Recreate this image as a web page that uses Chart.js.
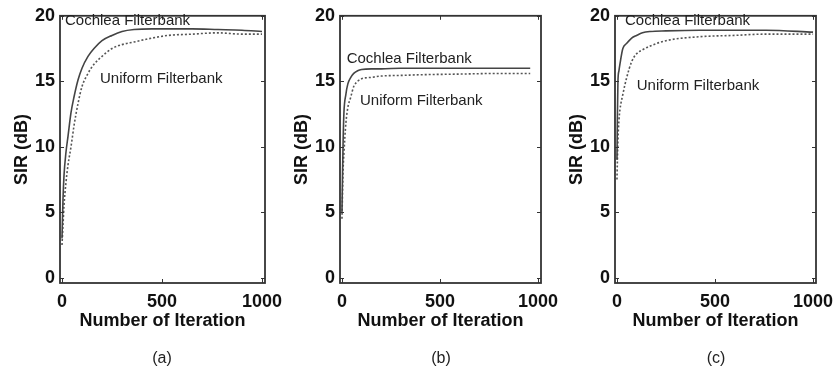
<!DOCTYPE html>
<html>
<head>
<meta charset="utf-8">
<script src="https://cdn.jsdelivr.net/npm/chart.js@4.4.1/dist/chart.umd.min.js"></script>
<style>
  html, body { margin: 0; padding: 0; background: #fff; overflow: hidden; width: 835px; height: 376px; }
  canvas { position: absolute; top: 0; }
  .cap { position: absolute; top: 349px; width: 60px; text-align: center; font: 16px "Liberation Sans", Arial, sans-serif; line-height: 18px; color: #222; }
</style>
</head>
<body>
<canvas id="chartA" width="300" height="376" style="left:0px"></canvas>
<canvas id="chartB" width="296" height="376" style="left:280px"></canvas>
<canvas id="chartC" width="296" height="376" style="left:555px"></canvas>
<div class="cap" style="left:132px">(a)</div>
<div class="cap" style="left:411px">(b)</div>
<div class="cap" style="left:686px">(c)</div>
<script>
// tick labels
const xTicks = [0, 500, 1000];
const yTicks = [0, 5, 10, 15, 20];

// panel (a)
const iterA = [0, 5, 10, 20, 30, 45, 60, 80, 100, 130, 160, 200, 250, 300, 360, 450, 530, 650, 780, 900, 1000];
const cochleaA = [3.0, 6.0, 7.8, 9.6, 10.8, 12.6, 13.8, 15.1, 16.0, 16.9, 17.5, 18.1, 18.5, 18.8, 18.95, 19.0, 19.0, 19.0, 18.95, 18.9, 18.8];
const uniformA = [2.5, 4.0, 5.5, 7.3, 8.6, 10.0, 11.6, 13.3, 14.6, 15.6, 16.3, 16.9, 17.5, 17.8, 18.0, 18.3, 18.5, 18.6, 18.7, 18.6, 18.6];

// panel (b)
const iterB = [0, 3, 6, 10, 20, 30, 45, 60, 80, 100, 150, 200, 300, 400, 600, 800, 960];
const cochleaB = [5.0, 8.0, 10.5, 12.6, 14.0, 14.8, 15.3, 15.6, 15.8, 15.9, 15.95, 15.95, 16.0, 16.0, 16.0, 16.0, 16.0];
const uniformB = [4.5, 6.5, 8.3, 9.5, 11.8, 13.0, 13.8, 14.6, 15.0, 15.2, 15.3, 15.4, 15.45, 15.5, 15.55, 15.6, 15.6];

// panel (c)
const iterC = [0, 2, 5, 10, 15, 30, 50, 75, 100, 130, 170, 250, 420, 590, 760, 1000];
const cochleaC = [9.0, 12.0, 15.0, 15.8, 16.3, 17.5, 17.9, 18.3, 18.5, 18.7, 18.8, 18.85, 18.9, 18.9, 18.9, 18.75];
const uniformC = [7.5, 8.8, 10.5, 12.0, 12.8, 14.0, 15.3, 16.5, 17.1, 17.4, 17.7, 18.1, 18.4, 18.5, 18.6, 18.6];

const seriesNames = ["Cochlea Filterbank", "Uniform Filterbank"];

// where the in-plot labels sit, in data units [iteration, SIR]
const labelPosA = [[15, 19.65], [190, 15.16]];
const labelPosB = [[24, 16.75], [92, 13.5]];
const labelPosC = [[41, 19.6], [101, 14.68]];

const FONT = '"Liberation Sans", Arial, sans-serif';

// matlab-like box, inward ticks and curve labels
const boxPlugin = {
  id: "box",
  afterDraw(chart, args, opts) {
    const { ctx, chartArea: a, scales } = chart;
    ctx.save();
    ctx.strokeStyle = "#333";
    ctx.lineWidth = 1;
    ctx.beginPath();
    for (const v of yTicks) {
      const y = Math.round(scales.y.getPixelForValue(v)) + 0.5;
      ctx.moveTo(a.left, y); ctx.lineTo(a.left + 4, y);
      ctx.moveTo(a.right, y); ctx.lineTo(a.right - 4, y);
    }
    for (const v of xTicks) {
      const x = Math.round(scales.x.getPixelForValue(v)) + 0.5;
      ctx.moveTo(x, a.bottom); ctx.lineTo(x, a.bottom - 4);
      ctx.moveTo(x, a.top); ctx.lineTo(x, a.top + 4);
    }
    ctx.stroke();
    ctx.lineWidth = 1.8;
    ctx.strokeRect(a.left, a.top, a.right - a.left, a.bottom - a.top);

    ctx.fillStyle = "#222";
    ctx.font = "15px " + FONT;
    ctx.textAlign = "left";
    ctx.textBaseline = "middle";
    opts.pos.forEach((p, i) => {
      ctx.fillText(seriesNames[i], scales.x.getPixelForValue(p[0]), scales.y.getPixelForValue(p[1]));
    });
    ctx.restore();
  }
};

function makeChart(id, iters, cochlea, uniform, labelPos) {
  const pts = (vals) => iters.map((x, i) => ({ x: x, y: vals[i] }));
  return new Chart(document.getElementById(id), {
    type: "line",
    data: {
      datasets: [
        { label: seriesNames[0], data: pts(cochlea), borderColor: "#444", borderWidth: 1.6,
          pointRadius: 0, cubicInterpolationMode: "monotone", fill: false },
        { label: seriesNames[1], data: pts(uniform), borderColor: "#555", borderWidth: 1.6,
          borderDash: [2, 2], pointRadius: 0, cubicInterpolationMode: "monotone", fill: false }
      ]
    },
    options: {
      responsive: false,
      animation: false,
      layout: { padding: { left: 8, top: 13, right: 35, bottom: 0 } },
      plugins: {
        legend: { display: false },
        tooltip: { enabled: false },
        box: { pos: labelPos }
      },
      scales: {
        x: {
          type: "linear", min: -10, max: 1015,
          afterBuildTicks: (s) => { s.ticks = xTicks.map(v => ({ value: v })); },
          afterFit: (s) => { s.height = 93; },
          grid: { display: false, drawTicks: false },
          border: { display: false },
          ticks: { padding: 8, maxRotation: 0, color: "#111", callback: (v) => String(v),
                   font: { family: FONT, size: 18, weight: "bold" } },
          title: { display: true, text: "Number of Iteration", color: "#111",
                   font: { family: FONT, size: 18, weight: "bold" }, padding: { top: 0, bottom: 44 } }
        },
        y: {
          min: -0.4, max: 20,
          afterBuildTicks: (s) => { s.ticks = yTicks.map(v => ({ value: v })); },
          afterFit: (s) => { s.width = 52; },
          grid: { display: false, drawTicks: false },
          border: { display: false },
          ticks: { padding: 5, color: "#111", callback: (v) => String(v),
                   font: { family: FONT, size: 18, weight: "bold" } },
          title: { display: true, text: "SIR (dB)", color: "#111",
                   font: { family: FONT, size: 18, weight: "bold" }, padding: { top: 3, bottom: 0 } }
        }
      }
    },
    plugins: [boxPlugin]
  });
}

makeChart("chartA", iterA, cochleaA, uniformA, labelPosA);
makeChart("chartB", iterB, cochleaB, uniformB, labelPosB);
makeChart("chartC", iterC, cochleaC, uniformC, labelPosC);
</script>
</body>
</html>
